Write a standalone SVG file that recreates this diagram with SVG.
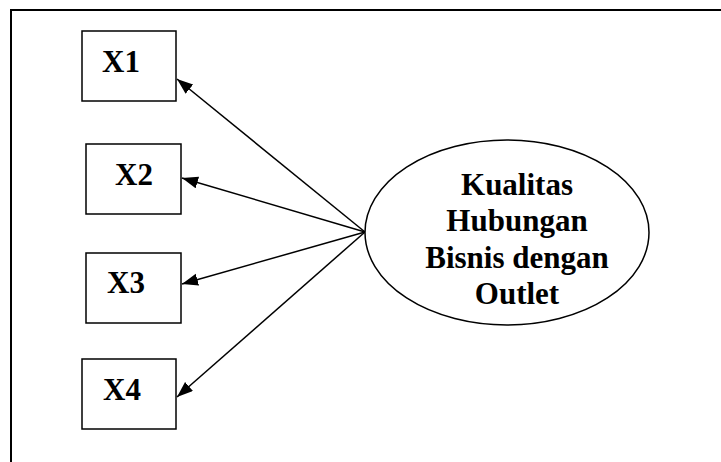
<svg xmlns="http://www.w3.org/2000/svg" width="721" height="462" viewBox="0 0 721 462">
<style>
.box{fill:#fff;stroke:#000;stroke-width:1.5}
.lbl{font-family:"Liberation Serif","Times New Roman",serif;font-weight:bold;font-size:31px;fill:#000;text-anchor:middle}
.edge{stroke:#000;stroke-width:1.5;fill:none;marker-end:url(#ah)}
</style>
<defs>
<marker id="ah" markerUnits="userSpaceOnUse" markerWidth="18" markerHeight="14" refX="16" refY="6" orient="auto">
<path d="M0,0 L16,6 L0,12 Z" fill="#000"/>
</marker>
</defs>
<rect x="11" y="10" width="720" height="470" fill="#fff" stroke="#000" stroke-width="2"/>
<g id="connectors">
<path class="edge" d="M365,232 L177,79"/>
<path class="edge" d="M365,232 L182,178"/>
<path class="edge" d="M365,232 L182,284"/>
<path class="edge" d="M365,232 L177,397"/>
</g>
<g id="x1"><rect class="box" x="82" y="31" width="94" height="70"/><text class="lbl" x="121" y="72">X1</text></g>
<g id="x2"><rect class="box" x="86" y="144" width="95" height="70"/><text class="lbl" x="134" y="185">X2</text></g>
<g id="x3"><rect class="box" x="86" y="253" width="95" height="70"/><text class="lbl" x="126" y="293">X3</text></g>
<g id="x4"><rect class="box" x="82" y="359" width="94" height="70"/><text class="lbl" x="122" y="400">X4</text></g>
<g id="kualitas">
<ellipse cx="507" cy="232.5" rx="142" ry="92.5" fill="#fff" stroke="#000" stroke-width="1.5"/>
<text class="lbl" x="517" y="195">Kualitas</text>
<text class="lbl" x="517" y="231">Hubungan</text>
<text class="lbl" x="517" y="268">Bisnis dengan</text>
<text class="lbl" x="517" y="304">Outlet</text>
</g>
</svg>
